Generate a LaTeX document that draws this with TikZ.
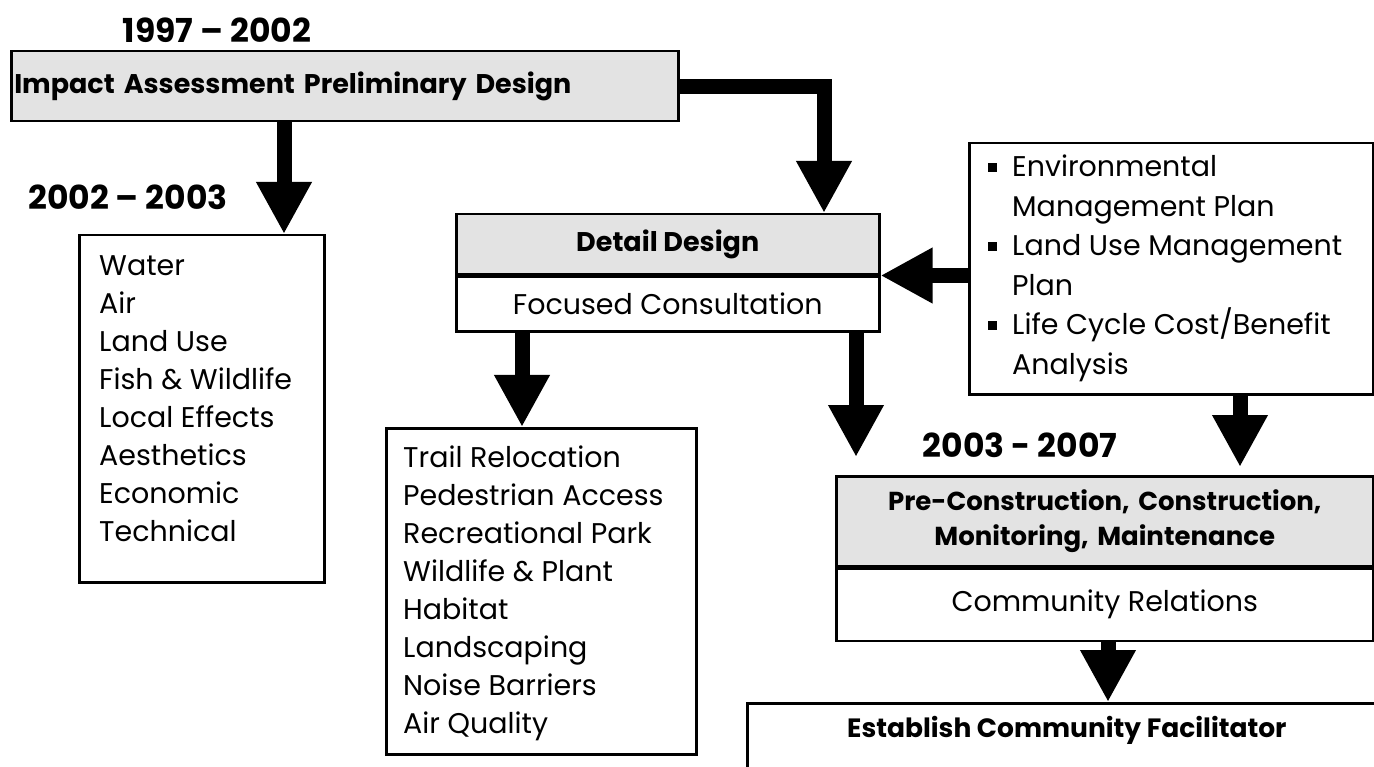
\documentclass[tikz,border=0pt]{standalone}
\usepackage{fontspec}
\setmainfont{Poppins}
\usetikzlibrary{arrows.meta}
\newcommand{\sqb}{\makebox[24pt][l]{\rule[5pt]{9pt}{9pt}}}

\begin{document}
\begin{tikzpicture}[x=1pt,y=-1pt,
    box/.style={draw,line width=2.5pt,inner sep=0pt,anchor=north west},
    shadebox/.style={box,fill=gray!22},
    bigarrow/.style={line width=15pt,-{Triangle[width=52pt,length=52pt]}},
    listtext/.style={font=\fontsize{28.5}{38}\selectfont,align=left,anchor=north west,inner sep=0pt},
    headtext/.style={font=\fontsize{27}{35}\selectfont\bfseries},
    yeartext/.style={font=\fontsize{33}{35}\selectfont\bfseries,inner sep=0pt}]

    \clip (0,0) rectangle (1374,767);
    \fill[white] (0,0) rectangle (1374,767);

    \node[yeartext] (yr1) at (217,30) {1997 -- 2002};
    \node[yeartext] (yr2) at (128,197) {2002 -- 2003};
    \node[yeartext] (yr3) at (1020,445) {2003 - 2007};

    \node[shadebox,headtext,minimum width=667pt,minimum height=70pt,text width=661pt,inner xsep=3pt,align=left] (impact) at (10,50) {Impact Assessment Preliminary Design};

    \node[box,minimum width=245pt,minimum height=347pt] (factors) at (78,234) {};
    \node[listtext] (factorlist) at ([xshift=21pt,yshift=-21pt]factors.north west)
        {Water\\Air\\Land Use\\Fish \& Wildlife\\Local Effects\\Aesthetics\\Economic\\Technical};

    \node[shadebox,headtext,minimum width=423pt,minimum height=60pt] (detail) at (455,213) {Detail Design};
    \node[box,font=\fontsize{28.5}{38}\selectfont,minimum width=423pt,minimum height=55pt] (consult) at (detail.south west) {Focused Consultation};

    \node[box,minimum width=404pt,minimum height=251pt] (plans) at (968,142) {};
    \node[listtext,font=\fontsize{28.5}{39.5}\selectfont] (planlist) at ([xshift=20pt,yshift=-13pt]plans.north west)
        {\sqb Environmental\\\hspace*{24pt}Management Plan\\\sqb Land Use Management\\\hspace*{24pt}Plan\\\sqb Life Cycle Cost/Benefit\\\hspace*{24pt}Analysis};

    \node[box,minimum width=310pt,minimum height=326pt] (items) at (385,427) {};
    \node[listtext] (itemlist) at ([xshift=18pt,yshift=-19pt]items.north west)
        {Trail Relocation\\Pedestrian Access\\Recreational Park\\Wildlife \& Plant\\Habitat\\Landscaping\\Noise Barriers\\Air Quality};

    \node[shadebox,headtext,font=\fontsize{26}{35}\selectfont\bfseries,minimum width=537pt,minimum height=90pt,text width=530pt,align=center] (precon) at (835,475) {Pre-Construction, Construction,\\Monitoring, Maintenance};
    \node[box,font=\fontsize{28.5}{38}\selectfont,minimum width=537pt,minimum height=72pt] (community) at (precon.south west) {Community Relations};

    \node[box,minimum width=660pt,minimum height=110pt] (facil) at (746,702) {};
    \node[headtext,font=\fontsize{26.5}{35}\selectfont\bfseries,anchor=west,inner sep=0pt] (faciltext) at (847,730) {Establish Community Facilitator};

    \draw[bigarrow] (impact.south -| 284,0) -- (factors.north -| 284,0);
    \draw[bigarrow] (impact.east) -| (detail.north -| 824,0);
    \draw[bigarrow] (consult.south -| 522,0) -- (items.north -| 522,0);
    \draw[bigarrow,shorten >=18pt] (consult.south -| 856,0) -- (precon.north -| 856,0);
    \draw[bigarrow] (plans.west |- consult.north) -- (consult.north east);
    \draw[bigarrow,shorten >=8pt] (plans.south -| 1240,0) -- (precon.north -| 1240,0);
    \draw[bigarrow] (community.south -| 1108,0) -- (facil.north -| 1108,0);
\end{tikzpicture}
\end{document}
